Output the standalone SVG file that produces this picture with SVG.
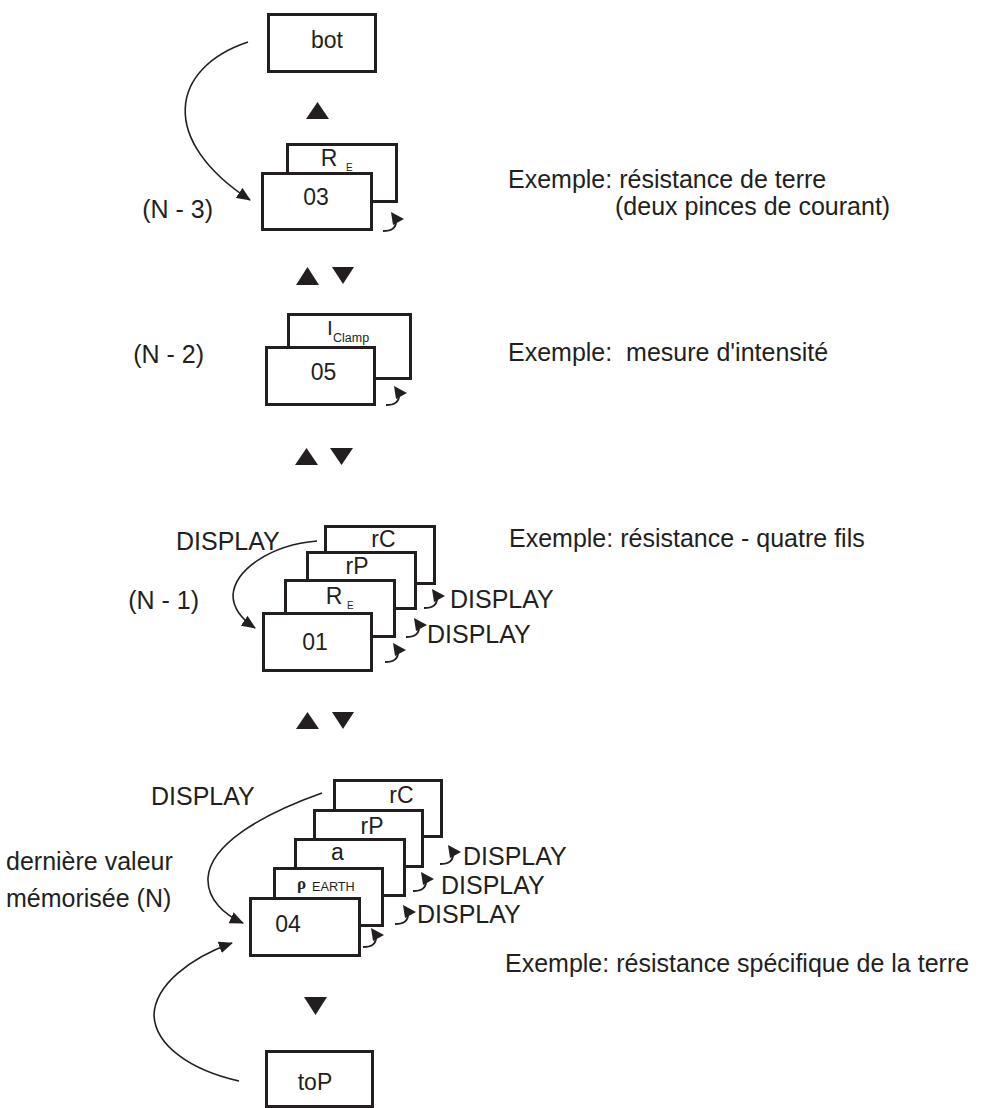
<svg xmlns="http://www.w3.org/2000/svg" width="981" height="1108" viewBox="0 0 981 1108">
<defs>
<style>
.box{fill:#fff;stroke:#231f20;stroke-width:3}
.t{font-family:"Liberation Sans",Arial,sans-serif;fill:#231f20;font-size:25px}
.lb{font-family:"Liberation Sans",Arial,sans-serif;fill:#231f20;font-size:23px;text-anchor:middle}
.sub{font-family:"Liberation Sans",Arial,sans-serif;fill:#231f20;font-size:10px}
.cv{fill:none;stroke:#231f20;stroke-width:1.6}
.tri{fill:#231f20}
</style>
<marker id="ah" markerUnits="userSpaceOnUse" markerWidth="14" markerHeight="12" refX="13" refY="6" orient="auto">
<path d="M0,0 L14,6 L0,12 z" fill="#231f20"/>
</marker>
<g id="curl">
<path d="M0,19 C8,19 13,17 13,9" fill="none" stroke="#231f20" stroke-width="2"/>
<polygon points="8,0 21,7 10,13" fill="#231f20"/>
</g>
</defs>
<rect width="981" height="1108" fill="#fff"/>

<g id="node-bot">
<rect class="box" x="268.5" y="14.5" width="107" height="57"/>
<text class="lb" x="327" y="48">bot</text>
</g>

<g id="nav-arrows">
<polygon class="tri" points="306,119 329,119 317.5,102"/>
<polygon class="tri" points="296,285 319,285 307.5,267"/>
<polygon class="tri" points="332,267 354,267 343,284"/>
<polygon class="tri" points="295,465 318,465 306.5,448"/>
<polygon class="tri" points="330,448 353,448 341.5,465"/>
<polygon class="tri" points="296,729 319,729 307.5,712"/>
<polygon class="tri" points="332,712 354,712 343,729"/>
<polygon class="tri" points="304,997 327,997 315.5,1015"/>
</g>

<g id="node-03">
<rect class="box" x="287.5" y="144.5" width="109" height="57"/>
<text class="lb" x="329" y="166">R</text>
<text class="sub" x="346" y="171">E</text>
<rect class="box" x="262.5" y="173.5" width="109" height="56"/>
<text class="lb" x="316" y="205">03</text>
</g>

<g id="node-05">
<rect class="box" x="288.5" y="314.5" width="122" height="64"/>
<text class="t" x="327" y="335" style="font-size:21px">I</text>
<text class="sub" x="333" y="342" style="font-size:12.5px">Clamp</text>
<rect class="box" x="266.5" y="347.5" width="108" height="57"/>
<text class="lb" x="323.5" y="380">05</text>
</g>

<g id="node-01">
<rect class="box" x="325.5" y="526.5" width="109" height="57"/>
<text class="lb" x="383.5" y="547">rC</text>
<rect class="box" x="307.5" y="552.5" width="108" height="56"/>
<text class="lb" x="357" y="574">rP</text>
<rect class="box" x="285.5" y="580.5" width="109" height="56"/>
<text class="lb" x="334" y="604">R</text>
<text class="sub" x="347" y="609">E</text>
<rect class="box" x="263.5" y="613.5" width="108" height="57"/>
<text class="lb" x="315" y="650">01</text>
</g>

<g id="node-04">
<rect class="box" x="334.5" y="780.5" width="107" height="56"/>
<text class="lb" x="401.5" y="803">rC</text>
<rect class="box" x="314.5" y="810.5" width="108" height="56"/>
<text class="lb" x="372" y="834">rP</text>
<rect class="box" x="295.5" y="839.5" width="109" height="56"/>
<text class="lb" x="337.5" y="860">a</text>
<rect class="box" x="274.5" y="868.5" width="108" height="57"/>
<text x="297" y="889" font-family="'Liberation Serif',serif" font-weight="bold" font-size="17" fill="#231f20">ρ</text>
<text class="sub" x="312" y="891" style="font-size:12.7px">EARTH</text>
<rect class="box" x="250.5" y="898.5" width="109" height="57"/>
<text class="lb" x="288" y="932">04</text>
</g>

<g id="node-toP">
<rect class="box" x="266.5" y="1051.5" width="106" height="55"/>
<text class="lb" x="315" y="1090">toP</text>
</g>

<g id="connectors">
<path class="cv" d="M248,42 C170,68 158,140 250,200" marker-end="url(#ah)"/>
<path class="cv" d="M317,541 C270,545 235,570 233,595 C233,610 243,620 255,628" marker-end="url(#ah)"/>
<path class="cv" d="M322,793 C260,815 210,845 208,878 C207,900 225,915 243,923" marker-end="url(#ah)"/>
<path class="cv" d="M239,1081 C190,1070 155,1045 154,1015 C155,985 190,958 232,943" marker-end="url(#ah)"/>
<use href="#curl" x="383" y="212"/>
<use href="#curl" x="386" y="386"/>
<use href="#curl" x="424" y="589"/>
<use href="#curl" x="406" y="618"/>
<use href="#curl" x="385" y="643"/>
<use href="#curl" x="440" y="845"/>
<use href="#curl" x="413" y="872"/>
<use href="#curl" x="395" y="905"/>
<use href="#curl" x="363" y="928"/>
</g>

<g id="labels">
<text class="t" x="213" y="218" text-anchor="end">(N - 3)</text>
<text class="t" x="204" y="363" text-anchor="end">(N - 2)</text>
<text class="t" x="199" y="609" text-anchor="end">(N - 1)</text>
<text class="t" x="176" y="550">DISPLAY</text>
<text class="t" x="450" y="608">DISPLAY</text>
<text class="t" x="427" y="643">DISPLAY</text>
<text class="t" x="151" y="805">DISPLAY</text>
<text class="t" x="463" y="865">DISPLAY</text>
<text class="t" x="441" y="894">DISPLAY</text>
<text class="t" x="417" y="923">DISPLAY</text>
<text class="t" x="6" y="870">dernière valeur</text>
<text class="t" x="6" y="907">mémorisée (N)</text>
<text class="t" x="508" y="188">Exemple: résistance de terre</text>
<text class="t" x="615" y="215">(deux pinces de courant)</text>
<text class="t" x="508" y="361" xml:space="preserve">Exemple:  mesure d'intensité</text>
<text class="t" x="509" y="547">Exemple: résistance - quatre fils</text>
<text class="t" x="505" y="972">Exemple: résistance spécifique de la terre</text>
</g>
</svg>
